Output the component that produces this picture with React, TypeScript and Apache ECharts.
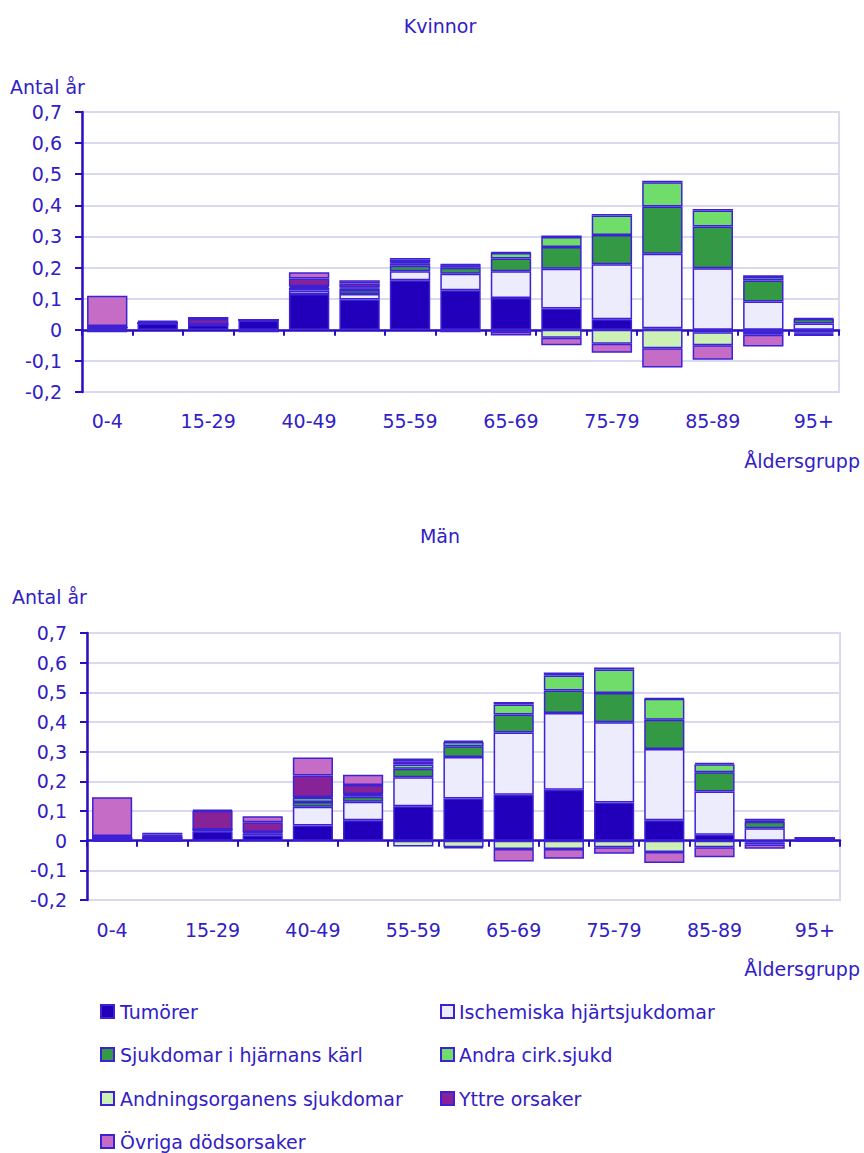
import React, { useEffect, useRef } from "react";
import * as echarts from "echarts";

const categories = ["0-4", "5-14", "15-29", "30-39", "40-49", "50-54", "55-59", "60-64", "65-69", "70-74", "75-79", "80-84", "85-89", "90-94", "95+"];

const seriesNames = [
  "Tumörer",
  "Ischemiska hjärtsjukdomar",
  "Sjukdomar i hjärnans kärl",
  "Andra cirk.sjukd",
  "Andningsorganens sjukdomar",
  "Yttre orsaker",
  "Övriga dödsorsaker",
];

const seriesColors = ["#2200bb", "#ececfc", "#339944", "#70dd6a", "#cdf0b4", "#882299", "#c46cc6"];

// Kvinnor
const kTumorer = [0.008, 0.02, 0.015, 0.03, 0.115, 0.097, 0.159, 0.127, 0.102, 0.068, 0.034, 0.005, -0.008, -0.006, -0.008];
const kIschemiska = [0, 0.001, 0.001, 0.001, 0.011, 0.018, 0.029, 0.053, 0.086, 0.128, 0.177, 0.239, 0.198, 0.091, 0.02];
const kHjarnan = [0, 0, 0.001, 0.001, 0.008, 0.013, 0.018, 0.019, 0.041, 0.07, 0.094, 0.152, 0.134, 0.067, 0.015];
const kAndraCirk = [0, 0, 0.001, 0, 0.004, 0.005, 0.008, 0.008, 0.018, 0.032, 0.062, 0.078, 0.051, 0.012, -0.004];
const kAndning = [-0.008, 0, 0, 0, 0.002, 0.003, 0.003, 0.002, -0.006, -0.026, -0.045, -0.059, -0.042, -0.01, -0.004];
const kYttre = [0.004, 0.005, 0.017, -0.008, 0.025, 0.013, 0.008, 0.002, 0.002, 0.005, 0.005, 0.005, 0.005, 0.005, 0.003];
const kOvriga = [0.097, 0.003, 0.006, 0.001, 0.02, 0.01, 0.006, -0.008, -0.012, -0.024, -0.029, -0.062, -0.046, -0.038, -0.003];

// Män
const mTumorer = [0.008, 0.009, 0.031, 0.018, 0.051, 0.069, 0.116, 0.142, 0.155, 0.172, 0.129, 0.069, 0.02, -0.005, 0.009];
const mIschemiska = [0, 0.001, 0.003, 0.006, 0.063, 0.062, 0.098, 0.14, 0.21, 0.258, 0.27, 0.24, 0.146, 0.042, 0];
const mHjarnan = [0, 0, 0.002, 0.003, 0.016, 0.017, 0.028, 0.036, 0.06, 0.076, 0.099, 0.099, 0.065, 0.022, 0];
const mAndraCirk = [0, 0, 0.002, 0.003, 0.015, 0.007, 0.015, 0.015, 0.034, 0.051, 0.079, 0.07, 0.027, 0.003, 0];
const mAndning = [-0.004, -0.004, 0, 0, 0.002, 0.002, -0.02, -0.022, -0.028, -0.028, -0.022, -0.038, -0.022, -0.008, 0];
const mYttre = [0.008, 0.011, 0.063, 0.032, 0.073, 0.031, 0.011, 0.004, 0.008, 0.01, 0.007, 0.003, 0.004, 0.007, 0];
const mOvriga = [0.13, 0.006, 0.003, 0.02, 0.06, 0.034, 0.009, -0.004, -0.042, -0.033, -0.022, -0.037, -0.034, -0.014, -0.004];

const kvinnorData = [kTumorer, kIschemiska, kHjarnan, kAndraCirk, kAndning, kYttre, kOvriga];
const manData = [mTumorer, mIschemiska, mHjarnan, mAndraCirk, mAndning, mYttre, mOvriga];

const yMin = -0.2;
const yMax = 0.7;
const yStep = 0.1;

const TEXT = "#3120c6";
const AXIS = "#2a10c0";
const GRIDLINE = "#d9d9f2";
const BORDER = "#3d22d4";
const FONT = "'DejaVu Sans', sans-serif";
const FS = 19;

export default function App() {
  const ref = useRef<HTMLDivElement>(null);

  useEffect(() => {
    if (!ref.current) return;
    const chart = echarts.init(ref.current, undefined, { renderer: "svg" });

    const grids = [
      { left: 82, top: 112, width: 757, height: 280 },
      { left: 87, top: 633, width: 753, height: 267 },
    ];

    const xAxes: any[] = [];
    grids.forEach((_, i) => {
      // axis line at zero with ticks between categories
      xAxes.push({
        type: "category",
        gridIndex: i,
        data: categories,
        axisLine: { onZero: true, lineStyle: { color: AXIS, width: 2.5 } },
        axisTick: { show: true, interval: 0, length: 6, lineStyle: { color: AXIS, width: 2 } },
        axisLabel: { show: false },
        splitLine: { show: false },
      });
    });
    grids.forEach((_, i) => {
      // labels at the bottom of the plot area
      xAxes.push({
        type: "category",
        gridIndex: i,
        position: "bottom",
        data: categories,
        axisLine: { show: false, onZero: false },
        axisTick: { show: false },
        axisLabel: {
          interval: 1,
          margin: i === 0 ? 19 : 20,
          color: TEXT,
          fontSize: FS,
          fontFamily: FONT,
        },
        splitLine: { show: false },
      });
    });

    const yAxes = grids.map((_, i) => ({
      type: "value",
      gridIndex: i,
      min: yMin,
      max: yMax,
      interval: yStep,
      axisLine: { show: true, lineStyle: { color: AXIS, width: 2.5 } },
      axisTick: { show: true, length: 7, lineStyle: { color: AXIS, width: 2 } },
      axisLabel: {
        margin: 20,
        color: TEXT,
        fontSize: FS,
        fontFamily: FONT,
        formatter: (v: number) => (Math.abs(v) < 1e-9 ? "0" : v.toFixed(1).replace(".", ",")),
      },
      splitLine: { show: true, lineStyle: { color: GRIDLINE, width: 2 } },
    }));

    const series: any[] = [];
    [kvinnorData, manData].forEach((group, gi) => {
      group.forEach((values, si) => {
        series.push({
          type: "bar",
          name: seriesNames[si],
          xAxisIndex: gi,
          yAxisIndex: gi,
          stack: gi === 0 ? "kvinnor" : "man",
          data: values,
          barCategoryGap: "20%",
          itemStyle: { color: seriesColors[si], borderColor: BORDER, borderWidth: 1.5 },
          emphasis: { disabled: true },
        });
      });
    });

    const legendPos = [
      { left: 100, top: 1002 },
      { left: 440, top: 1002 },
      { left: 100, top: 1045 },
      { left: 440, top: 1045 },
      { left: 100, top: 1089 },
      { left: 440, top: 1089 },
      { left: 100, top: 1132 },
    ];

    const legends = seriesNames.map((name, i) => ({
      data: [name],
      left: legendPos[i].left,
      top: legendPos[i].top,
      icon: "rect",
      itemWidth: 13,
      itemHeight: 13,
      itemGap: 0,
      padding: 0,
      selectedMode: false,
      textStyle: { color: TEXT, fontSize: FS, fontFamily: FONT, padding: [0, 0, 0, i % 2 === 0 ? 1 : 0] },
    }));

    const textStyle = (t: string) => ({ text: t, fill: TEXT, fontSize: FS, fontFamily: FONT });

    chart.setOption({
      animation: false,
      grid: grids.map((g) => ({ ...g, show: true, borderColor: GRIDLINE, borderWidth: 2, containLabel: false })),
      xAxis: xAxes,
      yAxis: yAxes,
      series,
      legend: legends,
      graphic: [
        { type: "text", x: 440, y: 26, style: { ...textStyle("Kvinnor"), textAlign: "center", textVerticalAlign: "middle" } },
        { type: "text", x: 10, y: 87, style: { ...textStyle("Antal år"), textAlign: "left", textVerticalAlign: "middle" } },
        { type: "text", x: 860, y: 461, style: { ...textStyle("Åldersgrupp"), textAlign: "right", textVerticalAlign: "middle" } },
        { type: "text", x: 440, y: 536, style: { ...textStyle("Män"), textAlign: "center", textVerticalAlign: "middle" } },
        { type: "text", x: 12, y: 597, style: { ...textStyle("Antal år"), textAlign: "left", textVerticalAlign: "middle" } },
        { type: "text", x: 860, y: 969, style: { ...textStyle("Åldersgrupp"), textAlign: "right", textVerticalAlign: "middle" } },
      ],
    });

    return () => chart.dispose();
  }, []);

  return (
    <div
      ref={ref}
      style={{ position: "absolute", left: 0, top: 0, width: 864, height: 1153, background: "#ffffff" }}
    />
  );
}
